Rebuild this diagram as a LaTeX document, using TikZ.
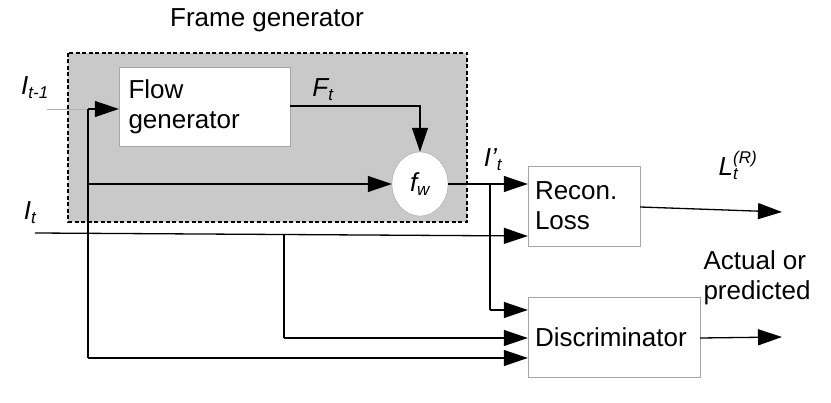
\documentclass[tikz,border=0pt]{standalone}
\usepackage{fontspec}
\setmainfont{Liberation Sans}
\usetikzlibrary{shapes,arrows.meta,positioning,calc}

\begin{document}
\begin{tikzpicture}[
            x=1pt,y=-1pt,
            font=\fontsize{26}{30}\selectfont,
            box/.style={rectangle,draw=gray!70,fill=white,align=left,inner sep=0pt},
            lbl/.style={font=\fontsize{26}{30}\selectfont\itshape,inner sep=0pt},
            flow/.style={line width=1.3pt,-{Triangle[length=24pt,width=16pt]}},
            line/.style={line width=1.3pt}
        ]
            \useasboundingbox (0,0) rectangle (831,403);
            % frame generator block
            \draw[fill=gray!42,line width=2pt,dash pattern=on 4pt off 2.5pt] (68,53) rectangle (467,222);
            \node (title) at (267,20) {Frame generator};
            \node[box,minimum width=171pt,minimum height=79pt,text width=152pt] (flowgen) at (204.5,106.5) {Flow\\generator};
            \node[ellipse,draw=gray!70,fill=white,minimum width=56pt,minimum height=64pt,inner sep=0pt] (fw) at (420,184) {\itshape f$_{\mbox{\fontsize{17}{17}\selectfont\itshape w}}$};
            % outer blocks
            \node[box,minimum width=112pt,minimum height=80pt,text width=98pt] (recon) at (584,206) {Recon.\\Loss};
            \node[box,minimum width=172pt,minimum height=80pt,text width=158pt] (disc) at (614,337) {Discriminator};
            % labels
            \node[lbl] (itm1) at (35,88) {I$_{\mbox{\fontsize{17}{17}\selectfont\itshape t-1}}$};
            \node[lbl] (it) at (30,213) {I$_{\mbox{\fontsize{17}{17}\selectfont\itshape t}}$};
            \node[lbl] (ft) at (323,90) {F$_{\mbox{\fontsize{17}{17}\selectfont\itshape t}}$};
            \node[lbl] (itp) at (493,160) {I'$_{\mbox{\fontsize{17}{17}\selectfont\itshape t}}$};
            \node[lbl] (lrt) at (738,165) {L$^{\mbox{\fontsize{17}{17}\selectfont\itshape (R)}}_{\mbox{\fontsize{17}{17}\selectfont\itshape t}}$};
            \node[align=left,anchor=west] (actual) at (700,278) {Actual or\\predicted};
            % coordinates
            \coordinate (inA) at (47,109);
            \coordinate (jA) at (88,109);
            \coordinate (inB) at (35,233);
            \coordinate (jB) at (284,235);
            \coordinate (jC) at (490,184);
            \coordinate (outR) at (782,212);
            \coordinate (outD) at (782,337);
            % connectors
            \draw[line,gray!60,line width=0.8pt] (inA) -- (jA);
            \draw[flow] (jA) -- (flowgen.west |- jA);
            \draw[line] (jA) -- (88,358);
            \draw[flow] (88,358) -- (disc.west |- 0,358);
            \draw[flow] (88,184) -- (fw.west);
            \draw[flow] (flowgen.east |- 0,106) -| (fw.north);
            \draw[flow] (fw.east) -- (recon.west |- jC);
            \draw[line] (jC) -- (490,310);
            \draw[flow] (490,310) -- (disc.west |- 0,310);
            \draw[flow] (inB) -- (recon.west |- 0,236);
            \draw[line] (jB) -- (284,338);
            \draw[flow] (284,338) -- (disc.west |- 0,338);
            \draw[flow] (recon.east |- 0,207) -- (outR);
            \draw[flow] (disc.east |- 0,338) -- (outD);
        \end{tikzpicture}
\end{document}
